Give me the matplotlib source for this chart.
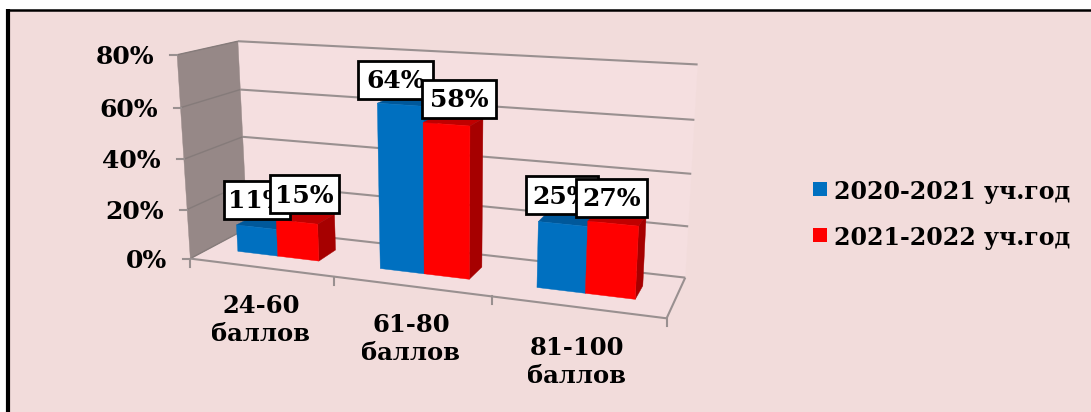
import matplotlib
matplotlib.use("Agg")
import matplotlib.pyplot as plt
import numpy as np
from matplotlib.patches import Polygon, Rectangle

categories = ["24-60\nбаллов", "61-80\nбаллов", "81-100\nбаллов"]
series_names = ["2020-2021 уч.год", "2021-2022 уч.год"]
values_2021 = [11, 64, 25]
values_2022 = [15, 58, 27]
y_ticks = [0, 20, 40, 60, 80]

BG = "#F2DCDB"
WALL = "#968887"
GRID = "#999090"
BLUE = ("#0070C0", "#00589A", "#00589A")
RED = ("#FF0000", "#C00000", "#A60000")
FONT = "DejaVu Serif"

# 3d box (category, depth, percent) -> pixels, fitted from points read on the picture
src = np.array([
    (0, 0, 0), (1, 0, 0), (2, 0, 0), (3, 0, 0),
    (0, 0, 80), (0, 1, 80), (3, 1, 80), (3, 1, 0), (0, 1, 0),
    (0, 0, 40), (0, 1, 40), (3, 1, 40),
], dtype=float)
dst = np.array([
    (191, 257), (334, 277), (491, 298), (667, 318),
    (177, 56), (238, 41), (698, 65), (685, 277), (247, 230),
    (183, 158), (243, 136), (691, 173),
], dtype=float)

A = []
b = []
for (x, d, v), (u, w) in zip(src, dst):
    A.append([x, d, v, 1, 0, 0, 0, 0, -u * x, -u * d, -u * v])
    b.append(u)
    A.append([0, 0, 0, 0, x, d, v, 1, -w * x, -w * d, -w * v])
    b.append(w)
P = np.linalg.lstsq(np.array(A), np.array(b), rcond=None)[0]
P = np.append(P, 1).reshape(3, 4)


def proj(x, d, v):
    p = P @ np.array([x, d, v, 1.0])
    return p[:2] / p[2]


def poly(ax, pts, color, z):
    ax.add_patch(Polygon([proj(*p) for p in pts], closed=True, fc=color, ec=color, lw=0.3, zorder=z))


def line(ax, a, b, color=GRID, lw=1.5, z=2):
    pa, pb = proj(*a), proj(*b)
    ax.plot([pa[0], pb[0]], [pa[1], pb[1]], color=color, lw=lw, zorder=z, solid_capstyle="butt")


def bar3d(ax, x0, x1, d0, d1, v, cols, z):
    poly(ax, [(x0, d0, v), (x0, d1, v), (x1, d1, v), (x1, d0, v)], cols[1], z)
    poly(ax, [(x1, d0, 0), (x1, d1, 0), (x1, d1, v), (x1, d0, v)], cols[2], z)
    poly(ax, [(x0, d0, 0), (x1, d0, 0), (x1, d0, v), (x0, d0, v)], cols[0], z + 0.1)


fig = plt.figure(figsize=(10.91, 4.12), dpi=100, facecolor="white")
ax = fig.add_axes([0, 0, 1, 1])
ax.set_xlim(0, 1091)
ax.set_ylim(412, 0)
ax.axis("off")

# slide background and its black frame
ax.add_patch(Rectangle((7, 10), 1084, 402, fc=BG, ec="none", zorder=0))
ax.plot([8, 8], [412, 9], color="black", lw=3, zorder=1, solid_capstyle="butt")
ax.plot([6, 1091], [10, 10], color="black", lw=1.8, zorder=1, solid_capstyle="butt")

# back wall, floor, side wall
poly(ax, [(0, 1, 0), (3, 1, 0), (3, 1, 80), (0, 1, 80)], "#F5DFE0", 1)
poly(ax, [(0, 0, 0), (3, 0, 0), (3, 1, 0), (0, 1, 0)], "#F4DEDF", 1)
poly(ax, [(0, 0, 0), (0, 1, 0), (0, 1, 80), (0, 0, 80)], WALL, 1.2)

for v in y_ticks:
    line(ax, (0, 1, v), (3, 1, v))
    line(ax, (0, 0, v), (0, 1, v), color="#857B7A", lw=1.0)
    p = proj(0, 0, v)
    ax.plot([p[0] - 7, p[0]], [p[1], p[1]], color=GRID, lw=1.5, zorder=2)
    ax.text(p[0] - 23, p[1] + 2, f"{v}%", ha="right", va="center", fontsize=18, fontweight="bold", family=FONT, zorder=5)

line(ax, (0, 0, 0), (3, 0, 0))
line(ax, (3, 0, 0), (3, 1, 0))
for c in range(4):
    p = proj(c, 0, 0)
    ax.plot([p[0], p[0]], [p[1], p[1] + 8], color=GRID, lw=1.5, zorder=2)

# bars
bar_l, bar_w = 0.205, 0.29
d0, d1 = 0.33, 0.67
for i in range(len(categories)):
    bar3d(ax, i + bar_l, i + bar_l + bar_w, d0, d1, values_2021[i], BLUE, 3)
    bar3d(ax, i + bar_l + bar_w, i + bar_l + 2 * bar_w, d0, d1, values_2022[i], RED, 3.5)

# data labels, nudged by hand like the originals
label_pos_a = [(257, 199.5), (395.5, 79.5), (562, 195)]
label_pos_b = [(304.5, 194), (459, 98.5), (611.5, 197.5)]
label_w_a = [66, 75, 72]
label_w_b = [69, 74, 71]
label_h = 38


def data_label(ax, xy, w, txt, z):
    ax.add_patch(Rectangle((xy[0] - w / 2, xy[1] - label_h / 2), w, label_h, fc="white", ec="black", lw=2, zorder=z))
    ax.text(xy[0], xy[1] + 1.5, txt, ha="center", va="center", fontsize=18, fontweight="bold", family=FONT, zorder=z)


for i in range(len(categories)):
    data_label(ax, label_pos_a[i], label_w_a[i], f"{values_2021[i]}%", 6 + i * 2)
    data_label(ax, label_pos_b[i], label_w_b[i], f"{values_2022[i]}%", 7 + i * 2)

# category labels
cat_pos = [(261, 320), (411, 339), (577, 362)]
for name, (x, y) in zip(categories, cat_pos):
    ax.text(x, y, name, ha="center", va="center", fontsize=17.5, fontweight="bold", family=FONT, linespacing=1.25, zorder=5)

# legend
for name, col, y in zip(series_names, (BLUE[0], RED[0]), (189, 235)):
    ax.add_patch(Rectangle((813, y - 7), 14, 14, fc=col, ec="none", zorder=5))
    ax.text(834, y + 3, name, ha="left", va="center", fontsize=17, fontweight="bold", family=FONT, zorder=5)

plt.savefig("out.png", dpi=100)
